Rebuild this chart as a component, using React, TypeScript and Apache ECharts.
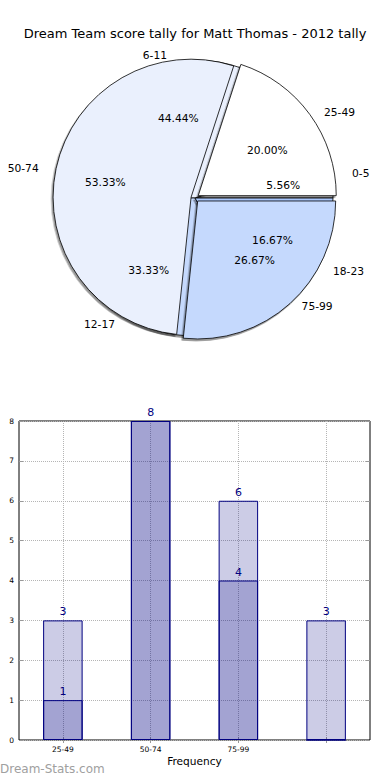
import React, { useEffect, useRef } from 'react';
import * as echarts from 'echarts';

// ---- data ----
const chartTitle = 'Dream Team score tally for Matt Thomas - 2012 tally';
const ageGroups = ['0-5', '6-11', '12-17', '18-23'];
const ageCounts = [1, 8, 6, 3];
const scoreBands = ['25-49', '50-74', '75-99'];
const scoreCounts = [3, 8, 4];
const barCategories = ['25-49', '50-74', '75-99', ''];
const barTotals = [3, 8, 6, 3];
const barSubset = [1, 8, 4, 0];
const yMax = 8;
const axisName = 'Frequency';
const watermark = 'Dream-Stats.com';

// ---- styles ----
const FONT = 'DejaVu Sans';
const agePalette = ['#ffffff', '#eaf0fd', '#c5d9fd', '#a9c6fb'];
const scorePalette = ['#ffffff', '#eaf0fd', '#c5d9fd'];
const PIE_CENTER: [number, number] = [195, 198];
const PIE_R = 138;

function midAngles(vals: number[]): number[] {
  const total = vals.reduce((a, b) => a + b, 0);
  let cum = 0;
  return vals.map((v) => {
    const a0 = cum;
    cum += v;
    return ((a0 + v / 2) / total) * 2 * Math.PI;
  });
}

function pctLayout(vals: number[]) {
  const mids = midAngles(vals);
  return (p: any) => {
    const a = mids[p.dataIndex];
    return {
      x: 194 + 90.6 * Math.cos(a),
      y: 199.4 - 82.6 * Math.sin(a),
      align: 'center',
      verticalAlign: 'middle',
    };
  };
}

function nameLayout(vals: number[]) {
  const mids = midAngles(vals);
  return (p: any) => {
    const a = mids[p.dataIndex];
    const c = Math.cos(a);
    return {
      x: 194.8 + 159.6 * c,
      y: 198.3 - 145.5 * Math.sin(a),
      align: c > 0 ? 'left' : 'right',
      verticalAlign: 'middle',
    };
  };
}

const pieBase = {
  type: 'pie',
  center: PIE_CENTER,
  radius: PIE_R,
  startAngle: 0,
  clockwise: false,
  silent: true,
  avoidLabelOverlap: false,
  emphasis: { disabled: true },
  labelLine: { show: false },
};

const sliceStyle = {
  borderColor: '#000',
  borderWidth: 0.8,
  shadowColor: 'rgba(0,0,0,0.4)',
  shadowOffsetX: -1.5,
  shadowOffsetY: 2,
  shadowBlur: 0.8,
};

const clearStyle = { color: 'rgba(0,0,0,0)', borderWidth: 0 };

function labelSeries(names: string[], vals: number[], kind: 'pct' | 'name') {
  return {
    ...pieBase,
    z: 5,
    itemStyle: clearStyle,
    data: names.map((n, i) => ({ name: n, value: vals[i] })),
    label: {
      show: true,
      position: 'inside',
      fontFamily: FONT,
      fontSize: 10.7,
      color: '#000',
      formatter:
        kind === 'pct'
          ? (p: any) => p.percent.toFixed(2) + '%'
          : (p: any) => p.name,
    },
    labelLayout: kind === 'pct' ? pctLayout(vals) : nameLayout(vals),
  };
}

export default function App() {
  const ref = useRef<HTMLDivElement>(null);

  useEffect(() => {
    if (!ref.current) return;
    const chart = echarts.init(ref.current, null, { renderer: 'svg' });

    const barLabelBase = {
      show: true,
      position: 'top',
      distance: 3,
      color: '#000080',
      fontFamily: FONT,
      fontSize: 11,
    };
    const barStyle = {
      color: 'rgba(0,0,128,0.2)',
      borderColor: '#000080',
      borderWidth: 1,
    };
    const tickStyle = { color: '#999', width: 1 };
    const dotted = { type: 'dotted', color: '#b5b5b5', width: 1 };

    chart.setOption({
      animation: false,
      backgroundColor: '#fff',
      title: {
        text: chartTitle,
        left: 'center',
        top: 22,
        textStyle: { fontFamily: FONT, fontSize: 13, fontWeight: 'normal', color: '#000' },
      },
      grid: {
        left: 19,
        right: 20,
        top: 421,
        bottom: 40,
        show: true,
        borderColor: '#000',
        borderWidth: 1,
        backgroundColor: 'rgba(0,0,0,0)',
      },
      xAxis: [
        {
          type: 'category',
          data: barCategories,
          position: 'bottom',
          axisLine: { show: false },
          axisTick: { show: true, inside: true, length: 3, alignWithLabel: true, lineStyle: tickStyle },
          axisLabel: { fontFamily: FONT, fontSize: 7.5, color: '#000', margin: 5 },
          splitLine: { show: true, alignWithLabel: true, lineStyle: dotted },
          name: axisName,
          nameLocation: 'middle',
          nameGap: 15,
          nameTextStyle: { fontFamily: FONT, fontSize: 10.6, color: '#000', verticalAlign: 'top' },
        },
        {
          type: 'category',
          data: barCategories,
          position: 'top',
          axisLine: { show: false },
          axisTick: { show: true, inside: true, length: 3, alignWithLabel: true, lineStyle: tickStyle },
          axisLabel: { show: false },
          splitLine: { show: false },
        },
      ],
      yAxis: [
        {
          type: 'value',
          min: 0,
          max: yMax,
          interval: 1,
          position: 'left',
          axisLine: { show: false },
          axisTick: { show: true, inside: true, length: 4, lineStyle: tickStyle },
          axisLabel: { fontFamily: FONT, fontSize: 7.5, color: '#000', margin: 5 },
          splitLine: { show: true, lineStyle: dotted },
        },
        {
          type: 'value',
          min: 0,
          max: yMax,
          interval: 1,
          position: 'right',
          axisLine: { show: false },
          axisTick: { show: true, inside: true, length: 4, lineStyle: tickStyle },
          axisLabel: { show: false },
          splitLine: { show: false },
        },
      ],
      graphic: [
        {
          type: 'text',
          left: 0,
          top: 763,
          style: { text: watermark, fill: '#a0a0a0', font: '12px "DejaVu Sans"' },
        },
      ],
      series: [
        {
          ...pieBase,
          z: 2,
          itemStyle: sliceStyle,
          label: { show: false },
          data: ageGroups.map((n, i) => ({
            name: n,
            value: ageCounts[i],
            itemStyle: { color: agePalette[i] },
          })),
        },
        {
          ...pieBase,
          z: 3,
          selectedMode: 'multiple',
          selectedOffset: 4,
          itemStyle: sliceStyle,
          label: { show: false },
          data: scoreBands.map((n, i) => ({
            name: n,
            value: scoreCounts[i],
            selected: true,
            itemStyle: { color: scorePalette[i] },
            select: { itemStyle: { color: scorePalette[i], borderColor: '#000', borderWidth: 0.8 } },
          })),
        },
        labelSeries(ageGroups, ageCounts, 'pct'),
        labelSeries(ageGroups, ageCounts, 'name'),
        labelSeries(scoreBands, scoreCounts, 'pct'),
        labelSeries(scoreBands, scoreCounts, 'name'),
        {
          type: 'bar',
          xAxisIndex: 0,
          yAxisIndex: 0,
          data: barTotals,
          barWidth: '45%',
          barGap: '-100%',
          itemStyle: barStyle,
          label: {
            ...barLabelBase,
            formatter: (p: any) =>
              p.value && p.value !== barSubset[p.dataIndex] ? String(p.value) : '',
          },
          silent: true,
        },
        {
          type: 'bar',
          xAxisIndex: 0,
          yAxisIndex: 0,
          data: barSubset,
          barWidth: '45%',
          barGap: '-100%',
          itemStyle: barStyle,
          label: {
            ...barLabelBase,
            formatter: (p: any) => (p.value ? String(p.value) : ''),
          },
          silent: true,
        },
      ],
    });

    return () => chart.dispose();
  }, []);

  return (
    <div
      ref={ref}
      style={{ position: 'absolute', left: 0, top: 0, width: 390, height: 780 }}
    />
  );
}
